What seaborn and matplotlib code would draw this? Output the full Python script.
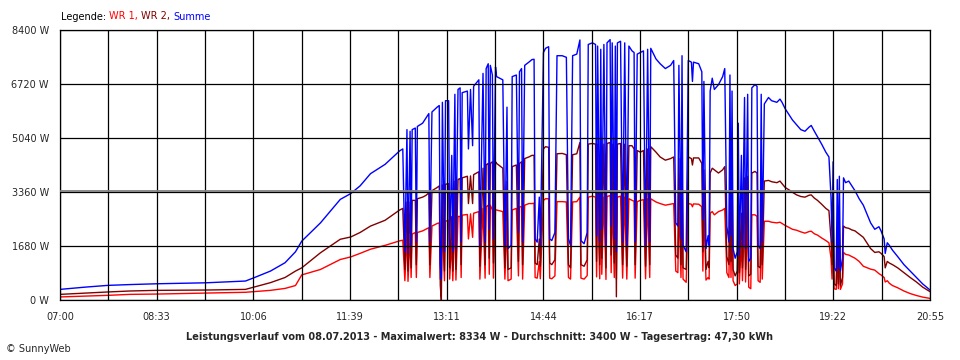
import numpy as np
import pandas as pd
import matplotlib
matplotlib.use("Agg")
import matplotlib.pyplot as plt
import seaborn as sns

# minutes after 07:00 and power readings (W)
minutes = [
    0, 24, 46, 67, 93, 140, 178, 186, 202, 216,
    226, 232, 250, 269, 279, 288, 298, 312, 326, 329,
    331, 333, 334, 336, 337, 338, 341, 342, 343, 348,
    351, 354, 355, 357, 362, 364, 365, 366, 367, 369,
    370, 373, 374, 376, 377, 379, 380, 382, 384, 385,
    386, 391, 392, 394, 396, 397, 402, 403, 406, 408,
    409, 411, 412, 413, 415, 416, 418, 419, 425, 427,
    429, 430, 433, 434, 438, 440, 441, 443, 444, 446,
    450, 453, 455, 456, 458, 460, 461, 464, 466, 469,
    470, 472, 475, 477, 482, 486, 488, 490, 492, 496,
    499, 500, 503, 506, 507, 511, 514, 515, 516, 518,
    519, 520, 522, 524, 525, 528, 529, 530, 532, 533,
    534, 535, 538, 540, 542, 544, 546, 549, 551, 552,
    554, 557, 560, 562, 564, 566, 567, 572, 576, 581,
    586, 589, 591, 593, 594, 596, 597, 598, 601, 603,
    606, 607, 608, 613, 616, 617, 618, 620, 622, 623,
    624, 626, 628, 632, 636, 638, 640, 642, 643, 644,
    645, 646, 648, 650, 651, 652, 654, 655, 657, 658,
    660, 661, 663, 664, 667, 669, 670, 672, 673, 674,
    676, 680, 683, 688, 691, 693, 696, 700, 703, 707,
    711, 715, 719, 721, 724, 727, 731, 735, 738, 740,
    741, 742, 743, 745, 746, 747, 748, 749, 751, 752,
    754, 757, 760, 763, 767, 771, 778, 782, 786, 788,
    791, 792, 794, 796, 799, 804, 810, 816, 822, 828,
    835,
]

summe = [
    330, 400, 455, 480, 505, 535, 590, 690, 900, 1160,
    1500, 1830, 2400, 3130, 3310, 3550, 3930, 4220, 4640, 4700,
    1500, 5300, 1450, 5250, 1700, 5300, 5350, 1800, 5400, 5500,
    5650, 5800, 1800, 5850, 6000, 6050, 1100, 650, 6150, 1500,
    6200, 6200, 1700, 4500, 1500, 6400, 1600, 6550, 6600, 1800,
    6450, 6500, 4700, 6550, 4800, 6650, 6850, 1700, 7050, 1800,
    7200, 7350, 2200, 7300, 7000, 1900, 7250, 6950, 6850, 1700,
    6000, 1600, 1700, 6950, 7000, 2100, 7100, 7200, 1800, 7300,
    7400, 7480, 7490, 1900, 1800, 3200, 1700, 7700, 7830, 7880,
    1900, 1850, 2100, 7600, 7600, 7550, 1900, 1700, 7600, 7650,
    8090, 1850, 1750, 2100, 7950, 8000, 7950, 2000, 7900, 1800,
    7800, 2200, 7950, 1700, 8000, 8100, 2300, 8000, 1900, 7900,
    1500, 8000, 8050, 1800, 8000, 1700, 7900, 7750, 7700, 1800,
    7650, 7700, 7750, 1700, 7800, 1800, 7830, 7500, 7350, 7200,
    7300, 7450, 2400, 2300, 7300, 1900, 7600, 1700, 1500, 7450,
    7400, 6800, 7400, 7350, 7100, 2500, 6800, 1600, 2000, 1700,
    6500, 6900, 6550, 6700, 6950, 7200, 2300, 1800, 7000, 2000,
    6500, 1600, 1300, 1500, 5500, 1400, 4500, 1700, 6300, 1600,
    6400, 1200, 1300, 6600, 6700, 6650, 1700, 1600, 6400, 1800,
    6100, 6300, 6200, 6150, 6250, 6150, 5950, 5750, 5600, 5450,
    5300, 5250, 5380, 5430, 5250, 5080, 4850, 4600, 4450, 3200,
    1800, 4300, 1000, 900, 3750, 1000, 3850, 900, 1300, 3800,
    3650, 3700, 3550, 3400, 3150, 2950, 2400, 2200, 2280, 2150,
    1900, 1450, 1780, 1700, 1550, 1350, 1100, 900, 700, 500,
    310,
]

wr2 = [
    175, 215, 250, 280, 300, 310, 330, 400, 540, 700,
    900, 1000, 1470, 1890, 1960, 2100, 2300, 2480, 2800, 2850,
    950, 3050, 900, 3050, 1000, 3100, 3100, 1100, 3150, 3200,
    3250, 3330, 1100, 3400, 3500, 3550, 450, 0, 3580, 900,
    3600, 3620, 1000, 2600, 900, 3700, 950, 3750, 3780, 1100,
    3800, 3850, 3000, 3860, 3000, 3900, 3990, 1050, 4100, 1100,
    4200, 4250, 1300, 4250, 4300, 1150, 4300, 4250, 4100, 1000,
    3700, 950, 1000, 4150, 4200, 1200, 4250, 4300, 1100, 4400,
    4450, 4500, 4500, 1150, 1100, 1900, 1050, 4700, 4770, 4750,
    1150, 1100, 1250, 4550, 4560, 4520, 1100, 1000, 4520, 4550,
    4900, 1100, 1050, 1250, 4850, 4870, 4850, 1200, 4850, 1100,
    4800, 1300, 4850, 1000, 4870, 4900, 1400, 4850, 1150, 4800,
    100, 4850, 4870, 1100, 4850, 1050, 4800, 4800, 4700, 1100,
    4650, 4600, 4650, 1050, 4700, 1100, 4770, 4600, 4450, 4350,
    4400, 4450, 1400, 1300, 4400, 1100, 4600, 1000, 950, 4450,
    4400, 4200, 4420, 4420, 4250, 1500, 4050, 950, 1200, 1000,
    3950, 4100, 4050, 3950, 4050, 4150, 1350, 1100, 4150, 1200,
    3900, 950, 750, 900, 3300, 850, 2700, 1000, 3800, 950,
    3850, 750, 800, 3950, 4000, 3950, 1050, 1000, 3800, 1100,
    3700, 3720, 3680, 3650, 3700, 3620, 3500, 3420, 3350, 3270,
    3220, 3200, 3260, 3270, 3170, 3100, 2980, 2850, 2780, 1900,
    1100, 2700, 500, 450, 2200, 500, 2300, 450, 700, 2300,
    2250, 2230, 2180, 2150, 2050, 1950, 1600, 1480, 1500, 1450,
    1350, 1000, 1200, 1150, 1100, 1000, 850, 700, 560, 400,
    260,
]

wr1 = [
    95, 120, 145, 175, 185, 215, 240, 260, 300, 360,
    450, 780, 950, 1260, 1340, 1450, 1580, 1700, 1840, 1860,
    600, 2050, 580, 2000, 700, 2050, 2100, 700, 2100, 2150,
    2200, 2250, 700, 2300, 2380, 2400, 650, 600, 2420, 600,
    2450, 2480, 650, 1800, 600, 2550, 620, 2600, 2600, 700,
    2640, 2660, 1900, 2680, 1950, 2700, 2750, 650, 2850, 680,
    2900, 2950, 800, 2950, 2800, 680, 2800, 2800, 2750, 650,
    2400, 600, 650, 2800, 2850, 750, 2900, 2900, 650, 2950,
    3000, 3000, 3010, 700, 680, 1200, 660, 3100, 3150, 3150,
    680, 660, 750, 3060, 3060, 3050, 700, 650, 3050, 3060,
    3200, 680, 650, 760, 3200, 3230, 3200, 720, 3200, 660,
    3150, 800, 3200, 640, 3220, 3250, 850, 3200, 700, 3150,
    650, 3200, 3230, 680, 3200, 650, 3150, 3100, 3070, 680,
    3060, 3100, 3120, 660, 3150, 700, 3150, 3050, 3000, 2950,
    2980, 3000, 900, 850, 3000, 700, 3100, 650, 550, 3000,
    2980, 2900, 2990, 2980, 2900, 900, 2750, 620, 700, 650,
    2700, 2750, 2650, 2750, 2800, 2850, 850, 700, 2850, 700,
    2650, 600, 450, 500, 2200, 500, 1800, 600, 2500, 560,
    2600, 400, 350, 2650, 2650, 2600, 600, 550, 2500, 650,
    2450, 2450, 2420, 2400, 2420, 2380, 2320, 2250, 2200, 2170,
    2120, 2080, 2130, 2140, 2060, 2020, 1930, 1850, 1780, 1300,
    650, 1700, 350, 330, 1500, 350, 1500, 330, 500, 1480,
    1420, 1400, 1350, 1300, 1200, 1050, 960, 930, 820, 780,
    700, 560, 600, 520, 450, 380, 280, 200, 140, 90,
    50,
]

series_order = ["WR 1", "WR 2", "Summe"]
series_colors = {"WR 1": "#ff0000", "WR 2": "#800000", "Summe": "#0000ff"}
y_ticks = [0, 1680, 3360, 5040, 6720, 8400]
x_labels = ["07:00", "08:33", "10:06", "11:39", "13:11",
            "14:44", "16:17", "17:50", "19:22", "20:55"]
average_w = 3400
title_text = ("Leistungsverlauf vom 08.07.2013 - Maximalwert: 8334 W - "
              "Durchschnitt: 3400 W - Tagesertrag: 47,30 kWh")


def main():
    sns.set_style("white")
    plt.rcParams["font.family"] = ["DejaVu Sans"]

    df = pd.DataFrame({"minute": minutes, "WR 1": wr1, "WR 2": wr2, "Summe": summe})
    long_df = df.melt(id_vars="minute", var_name="serie", value_name="watt")

    fig = plt.figure(figsize=(9.6, 3.6), dpi=100)
    ax = fig.add_axes([60 / 960, 60 / 360, 870 / 960, 270 / 360])

    # Summe last so it lies on top of the inverter curves
    sns.lineplot(data=long_df, x="minute", y="watt", hue="serie",
                 hue_order=series_order, palette=series_colors,
                 linewidth=1.0, estimator=None, sort=False,
                 legend=False, ax=ax)

    # grid drawn above the curves like in SunnyWeb
    x_grid = np.linspace(0, 835, 19)
    ax.set_xlim(0, 835)
    ax.set_ylim(0, 8400)
    ax.set_xticks(x_grid)
    tick_labels = []
    for i in range(len(x_grid)):
        tick_labels.append(x_labels[i // 2] if i % 2 == 0 else "")
    ax.set_xticklabels(tick_labels)
    ax.set_yticks(y_ticks)
    ax.set_yticklabels([f"{v} W" for v in y_ticks])
    ax.set_axisbelow(False)
    ax.grid(True, color="black", linewidth=0.9)
    ax.axhline(average_w, color="#808080", linewidth=1.3, zorder=3)

    ax.set_xlabel("")
    ax.set_ylabel("")
    for spine in ax.spines.values():
        spine.set_color("black")
        spine.set_linewidth(0.9)
    ax.tick_params(axis="x", direction="out", length=4, width=0.9,
                   color="black", labelsize=7, pad=5)
    ax.tick_params(axis="y", direction="out", length=5, width=0.9,
                   color="black", labelsize=7, pad=3)

    # legend line at the top, coloured word by word
    fig.canvas.draw()
    renderer = fig.canvas.get_renderer()
    legend_parts = [("Legende: ", "black"), ("WR 1, ", "#ff0000"),
                    ("WR 2, ", "#800000"), ("Summe", "#0000ff")]
    x_pos = 61 / 960
    for text, color in legend_parts:
        t = fig.text(x_pos, 1 - 16.5 / 360, text, color=color, fontsize=7,
                     va="center", ha="left")
        bb = t.get_window_extent(renderer)
        x_pos = bb.x1 / fig.bbox.width

    fig.text(0.5, 1 - 337 / 360, title_text, fontsize=7, fontweight="bold",
             ha="center", va="center")
    fig.text(6 / 960, 1 - 349 / 360, "\u00a9 SunnyWeb", fontsize=7,
             ha="left", va="center")

    fig.savefig("out.png", dpi=100)


if __name__ == "__main__":
    main()
